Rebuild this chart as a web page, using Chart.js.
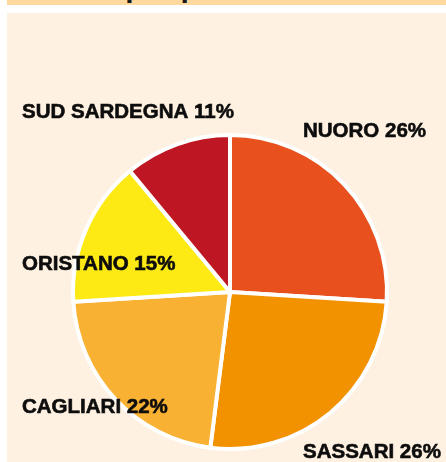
<!DOCTYPE html>
<html>
<head>
    <title>Iscritti per provincia</title>
    <script src="https://cdn.jsdelivr.net/npm/chart.js@4.4.0/dist/chart.umd.min.js"></script>
    <style>
        body { margin: 0; background: #ffffff; width: 446px; height: 462px; overflow: hidden; position: relative; }
        #band { position: absolute; left: 7px; top: 0; width: 439px; height: 5px; background: #fed89c; overflow: hidden; }
        #band span { position: absolute; left: 20px; top: -30px; font: bold 30px "Liberation Sans", sans-serif; color: #1a1a1a; white-space: nowrap; }
        #panel { position: absolute; left: 7px; top: 13px; width: 439px; height: 449px; background: #fef1e1; }
    </style>
</head>
<body>
    <div id="band"><span>Iscritti per provincia</span></div>
    <div id="panel">
        <canvas id="pieChart" width="439" height="449"></canvas>
    </div>

    <script>
        const provinces = ['NUORO', 'SASSARI', 'CAGLIARI', 'ORISTANO', 'SUD SARDEGNA'];
        const shares = [26, 26, 22, 15, 11];
        const sliceColors = ['#e8501e', '#f29200', '#f8b133', '#fde914', '#be1622'];

        // where each label sits (left x, baseline y) inside the canvas
        const labelSpots = [[296, 124], [296, 445], [15, 400], [15, 257], [15, 105]];

        const sliceLabels = {
            id: 'sliceLabels',
            afterDraw(chart) {
                const ctx = chart.ctx;
                ctx.save();
                ctx.font = 'bold 20.5px "Liberation Sans", sans-serif';
                ctx.fillStyle = '#0d0d0d';
                ctx.strokeStyle = '#0d0d0d';
                ctx.lineWidth = 0.6;
                ctx.textAlign = 'left';
                ctx.textBaseline = 'alphabetic';
                chart.data.labels.forEach((name, i) => {
                    const value = chart.data.datasets[0].data[i];
                    const text = name + ' ' + value + '%';
                    ctx.fillText(text, labelSpots[i][0], labelSpots[i][1]);
                    ctx.strokeText(text, labelSpots[i][0], labelSpots[i][1]);
                });
                ctx.restore();
            }
        };

        const ctx = document.getElementById('pieChart').getContext('2d');
        const myPieChart = new Chart(ctx, {
            type: 'pie',
            data: {
                labels: provinces,
                datasets: [{
                    data: shares,
                    backgroundColor: sliceColors,
                    borderColor: '#ffffff',
                    borderWidth: 4,
                    hoverOffset: 0,
                    radius: 157
                }]
            },
            options: {
                responsive: false,
                animation: false,
                layout: { padding: { left: 10, right: 3, top: 112, bottom: 3 } },
                plugins: {
                    legend: { display: false },
                    tooltip: { enabled: false }
                }
            },
            plugins: [sliceLabels]
        });
    </script>
</body>
</html>
